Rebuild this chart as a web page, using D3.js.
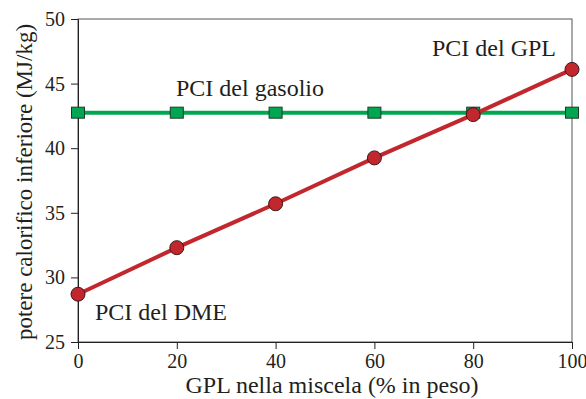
<!DOCTYPE html>
<html><head><meta charset="utf-8">
<script src="https://cdn.jsdelivr.net/npm/d3@7"></script>
<style>body{margin:0;background:#fff}svg{display:block}text{font-family:"Liberation Serif","Times New Roman",serif;fill:#231f20}</style>
</head><body>
<svg id="c" width="586" height="399"></svg>
<script>
const gplPct = [0, 20, 40, 60, 80, 100];
const pciMiscela = [28.7, 32.3, 35.7, 39.25, 42.6, 46.1];
const pciGasolio = [42.75, 42.75, 42.75, 42.75, 42.75, 42.75];
const xTicks = [0, 20, 40, 60, 80, 100];
const yTicks = [25, 30, 35, 40, 45, 50];

const svg = d3.select("#c");
const m = {l: 78, r: 572, t: 19, b: 342};
const x = d3.scaleLinear().domain([0, 100]).range([m.l, m.r]);
const y = d3.scaleLinear().domain([25, 50]).range([m.b, m.t]);

// frame
svg.append("rect").attr("x", m.l).attr("y", m.t).attr("width", m.r - m.l).attr("height", m.b - m.t)
  .attr("fill", "none").attr("stroke", "#555").attr("stroke-width", 1);

const xa = svg.append("g").attr("transform", `translate(0,${m.b})`)
  .call(d3.axisBottom(x).tickValues(xTicks).tickSize(7).tickPadding(5).tickFormat(d3.format("d")));
const ya = svg.append("g").attr("transform", `translate(${m.l},0)`)
  .call(d3.axisLeft(y).tickValues(yTicks).tickSize(7).tickPadding(6).tickFormat(d3.format("d")));
[xa, ya].forEach(a => {
  a.select(".domain").attr("stroke", "#222");
  a.selectAll(".tick line").attr("stroke", "#222");
  a.selectAll(".tick text").attr("font-size", 20).attr("font-family", "Liberation Serif").attr("fill", "#231f20");
});

const gas = gplPct.map((d, i) => [d, pciGasolio[i]]);
const mix = gplPct.map((d, i) => [d, pciMiscela[i]]);
const line = d3.line().x(d => x(d[0])).y(d => y(d[1]));

svg.append("path").datum(gas).attr("d", line).attr("fill", "none").attr("stroke", "#00a651").attr("stroke-width", 4);
svg.selectAll(".sq").data(gas).join("rect").attr("class", "sq")
  .attr("x", d => x(d[0]) - 6.5).attr("y", d => y(d[1]) - 5.5).attr("width", 13).attr("height", 11)
  .attr("fill", "#00a651").attr("stroke", "#1d3b26").attr("stroke-width", 1);

svg.append("path").datum(mix).attr("d", line).attr("fill", "none").attr("stroke", "#c1272d").attr("stroke-width", 4);
svg.selectAll(".ci").data(mix).join("circle").attr("class", "ci")
  .attr("cx", d => x(d[0])).attr("cy", d => y(d[1])).attr("r", 7)
  .attr("fill", "#c1272d").attr("stroke", "#3a1a1a").attr("stroke-width", 1);

svg.append("text").attr("x", 176).attr("y", 96).attr("font-size", 24).text("PCI del gasolio");
svg.append("text").attr("x", 432).attr("y", 56).attr("font-size", 24).text("PCI del GPL");
svg.append("text").attr("x", 95).attr("y", 320).attr("font-size", 24).text("PCI del DME");

svg.append("text").attr("x", (m.l + m.r) / 2 + 7).attr("y", 393).attr("text-anchor", "middle")
  .attr("font-size", 24).text("GPL nella miscela (% in peso)");
svg.append("text").attr("transform", `translate(32,182) rotate(-90)`).attr("text-anchor", "middle")
  .attr("font-size", 23).text("potere calorifico inferiore (MJ/kg)");
</script>
</body></html>
